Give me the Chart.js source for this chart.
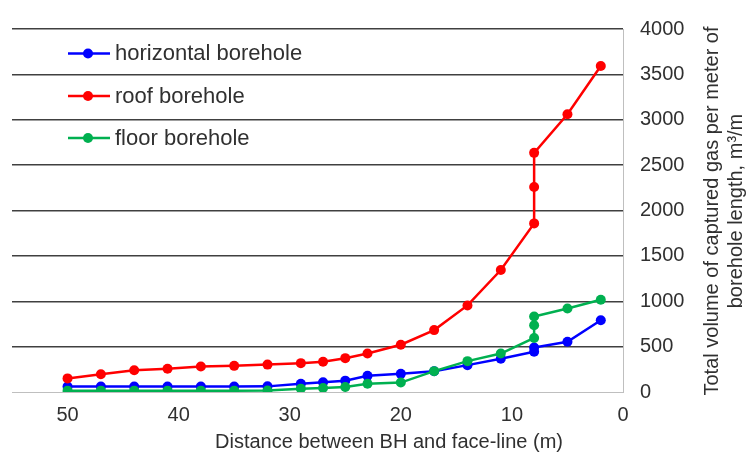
<!DOCTYPE html>
<html>
<head>
<meta charset="utf-8">
<script src="https://cdn.jsdelivr.net/npm/chart.js@4.4.1/dist/chart.umd.min.js"></script>
<style>
  html, body { margin: 0; padding: 0; background: #ffffff; }
  #wrap { width: 748px; height: 461px; }
</style>
</head>
<body>
<div id="wrap"><canvas id="c" width="748" height="461"></canvas></div>
<script>
// Tick labels
const xTicks = [50, 40, 30, 20, 10, 0];
const yTicks = [0, 500, 1000, 1500, 2000, 2500, 3000, 3500, 4000];

// Series names
const seriesNames = ['horizontal borehole', 'roof borehole', 'floor borehole'];

// Distance between borehole and face-line (m) and captured gas (m³/m)
const horizontalX = [50, 47, 44, 41, 38, 35, 32, 29, 27, 25, 23, 20, 17, 14, 11, 8, 8, 5, 2];
const horizontalY = [60, 60, 60, 60, 60, 60, 62, 90, 108, 125, 178, 200, 228, 296, 367, 444, 490, 553, 790];

const roofX = [50, 47, 44, 41, 38, 35, 32, 29, 27, 25, 23, 20, 17, 14, 11, 8, 8, 8, 5, 2];
const roofY = [150, 196, 239, 256, 281, 288, 302, 318, 334, 373, 425, 521, 682, 954, 1344, 1858, 2259, 2635, 3060, 3592];

const floorX = [50, 47, 44, 41, 38, 35, 32, 29, 27, 25, 23, 20, 17, 14, 11, 8, 8, 8, 5, 2];
const floorY = [15, 15, 15, 15, 15, 15, 16, 37, 44, 55, 90, 104, 230, 340, 424, 595, 735, 832, 920, 1017];

const colors = ['#0000FF', '#FF0000', '#00B050'];
const FONT = '"Liberation Sans", Arial, sans-serif';
const TEXT = '#303030';

function toPoints(xs, ys) {
  return xs.map((x, i) => ({ x: x, y: ys[i] }));
}

function series(label, xs, ys, color, order) {
  return {
    label: label,
    data: toPoints(xs, ys),
    showLine: true,
    borderColor: color,
    backgroundColor: color,
    borderWidth: 2.5,
    pointRadius: 5,
    pointHoverRadius: 5,
    pointBorderWidth: 0,
    pointBackgroundColor: color,
    tension: 0,
    order: order
  };
}

// Legend and axis titles drawn on the canvas
const decorations = {
  id: 'decorations',
  afterDraw(chart) {
    const ctx = chart.ctx;
    ctx.save();
    // legend
    const rows = [53.5, 96, 138];
    rows.forEach((y, i) => {
      ctx.strokeStyle = colors[i];
      ctx.lineWidth = 2.5;
      ctx.beginPath();
      ctx.moveTo(68, y);
      ctx.lineTo(110, y);
      ctx.stroke();
      ctx.fillStyle = colors[i];
      ctx.beginPath();
      ctx.arc(88, y, 5, 0, Math.PI * 2);
      ctx.fill();
      ctx.fillStyle = TEXT;
      ctx.font = '22px ' + FONT;
      ctx.textAlign = 'left';
      ctx.textBaseline = 'middle';
      ctx.fillText(seriesNames[i], 115, y + 0.5);
    });
    // x axis title
    ctx.fillStyle = TEXT;
    ctx.font = '20px ' + FONT;
    ctx.textAlign = 'center';
    ctx.textBaseline = 'middle';
    ctx.fillText('Distance between BH and face-line (m)', 389, 442);
    // y axis title, reading bottom to top
    ctx.translate(724, 211);
    ctx.rotate(-Math.PI / 2);
    ctx.fillText('Total volume of captured gas per meter of', 0, -12);
    ctx.fillText('borehole length, m³/m', 0, 12);
    ctx.restore();
  }
};

new Chart(document.getElementById('c'), {
  type: 'scatter',
  data: {
    datasets: [
      series(seriesNames[0], horizontalX, horizontalY, colors[0], 2),
      series(seriesNames[1], roofX, roofY, colors[1], 1),
      series(seriesNames[2], floorX, floorY, colors[2], 0)
    ]
  },
  options: {
    responsive: false,
    devicePixelRatio: 1,
    animation: false,
    layout: { padding: { left: 12, top: 16, right: 0, bottom: 0 } },
    plugins: {
      legend: { display: false },
      tooltip: { enabled: false },
      title: { display: false }
    },
    scales: {
      x: {
        type: 'linear',
        reverse: true,
        min: 0,
        max: 55,
        afterBuildTicks(scale) { scale.ticks = xTicks.map(v => ({ value: v })); },
        afterFit(scale) { scale.height = 69; },
        grid: { display: false, drawTicks: false },
        border: { display: true, color: '#bfbfbf', width: 1 },
        ticks: {
          padding: 11,
          maxRotation: 0,
          color: TEXT,
          font: { family: FONT, size: 20 },
          callback: (v) => String(v)
        }
      },
      y: {
        type: 'linear',
        position: 'right',
        min: 0,
        max: 4000,
        afterBuildTicks(scale) { scale.ticks = yTicks.map(v => ({ value: v })); },
        afterFit(scale) { scale.width = 125; },
        grid: {
          drawTicks: false,
          lineWidth: 1.5,
          color: (c) => (c.tick && c.tick.value === 0 ? 'rgba(0,0,0,0)' : '#404040')
        },
        border: { display: true, color: '#bfbfbf', width: 1 },
        ticks: {
          padding: 17,
          color: TEXT,
          font: { family: FONT, size: 20 },
          callback: (v) => String(v)
        }
      }
    }
  },
  plugins: [decorations]
});
</script>
</body>
</html>
